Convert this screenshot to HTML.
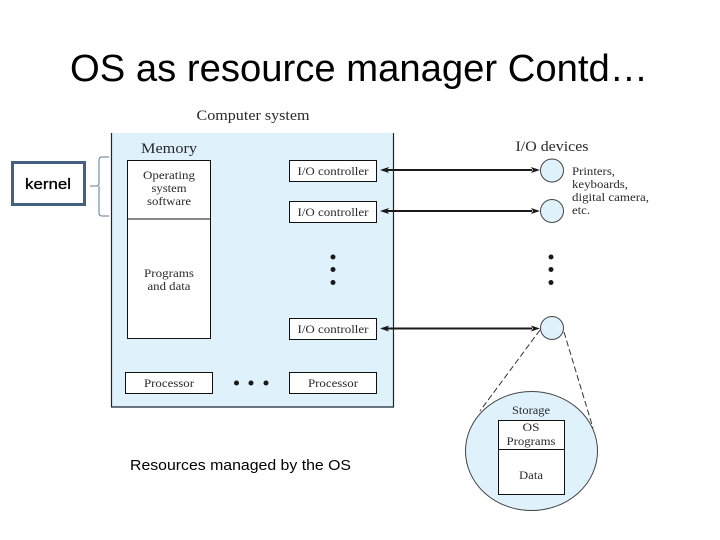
<!DOCTYPE html>
<html><head><meta charset="utf-8"><style>
html,body{margin:0;padding:0;background:#fff}
svg{display:block}
.s{font-family:"Liberation Serif",serif;fill:#2a2a2a;text-anchor:middle}
.l{font-family:"Liberation Serif",serif;fill:#2a2a2a;text-anchor:start}
.c{font-family:"Liberation Sans",sans-serif;fill:#000}
</style></head><body>
<svg width="720" height="540" viewBox="0 0 720 540" xmlns="http://www.w3.org/2000/svg">
<rect width="720" height="540" fill="#fff"/>
<text class="c" x="70" y="81" font-size="38" textLength="578" lengthAdjust="spacingAndGlyphs">OS as resource manager Contd…</text>

<text class="s" x="253" y="120" font-size="14.5" textLength="113" lengthAdjust="spacingAndGlyphs">Computer system</text>

<rect x="111.5" y="133" width="282" height="274" fill="#dff1fb"/>
<path d="M111.5 133V407H393.5V133" fill="none" stroke="#1a2630" stroke-width="1.2"/>

<text class="s" x="169" y="153" font-size="14.5" textLength="56" lengthAdjust="spacingAndGlyphs">Memory</text>
<rect x="127.5" y="160.5" width="83" height="178" fill="#fff" stroke="#111" stroke-width="1"/>
<line x1="127.5" y1="219" x2="210.5" y2="219" stroke="#111"/>
<g font-size="11.5" lengthAdjust="spacingAndGlyphs">
<text class="s" x="169" y="179" textLength="52" lengthAdjust="spacingAndGlyphs">Operating</text>
<text class="s" x="169" y="192" textLength="35" lengthAdjust="spacingAndGlyphs">system</text>
<text class="s" x="169" y="205" textLength="44" lengthAdjust="spacingAndGlyphs">software</text>
<text class="s" x="169" y="277" textLength="50" lengthAdjust="spacingAndGlyphs">Programs</text>
<text class="s" x="169" y="290" textLength="43" lengthAdjust="spacingAndGlyphs">and data</text>
</g>

<g fill="#fff" stroke="#111" stroke-width="1">
<rect x="289.5" y="160.5" width="87" height="21"/>
<rect x="289.5" y="201.5" width="87" height="21"/>
<rect x="289.5" y="318.5" width="87" height="21"/>
<rect x="125.5" y="372.5" width="87" height="21"/>
<rect x="289.5" y="372.5" width="87" height="21"/>
</g>
<g font-size="11.5">
<text class="s" x="333" y="175" textLength="71" lengthAdjust="spacingAndGlyphs">I/O controller</text>
<text class="s" x="333" y="216" textLength="71" lengthAdjust="spacingAndGlyphs">I/O controller</text>
<text class="s" x="333" y="333" textLength="71" lengthAdjust="spacingAndGlyphs">I/O controller</text>
<text class="s" x="169" y="387" textLength="50" lengthAdjust="spacingAndGlyphs">Processor</text>
<text class="s" x="333" y="387" textLength="50" lengthAdjust="spacingAndGlyphs">Processor</text>
</g>

<g fill="#1a1a1a">
<circle cx="333" cy="257" r="2.5"/><circle cx="333" cy="269.5" r="2.5"/><circle cx="333" cy="282.5" r="2.5"/>
<circle cx="551" cy="257" r="2.5"/><circle cx="551" cy="269.5" r="2.5"/><circle cx="551" cy="282.5" r="2.5"/>
<circle cx="236.5" cy="383" r="2.5"/><circle cx="251" cy="383" r="2.5"/><circle cx="266" cy="383" r="2.5"/>
</g>

<g stroke="#1a1a1a" stroke-width="2" fill="none">
<line x1="385" y1="170" x2="532" y2="170"/>
<line x1="385" y1="211" x2="532" y2="211"/>
<line x1="385" y1="328.5" x2="532" y2="328.5"/>
</g>
<g fill="#1a1a1a">
<path d="M380 170l9-3l-2 3l2 3z"/><path d="M540 170l-9-3l2 3l-2 3z"/>
<path d="M380 211l9-3l-2 3l2 3z"/><path d="M540 211l-9-3l2 3l-2 3z"/>
<path d="M380 328.5l9-3l-2 3l2 3z"/><path d="M540 328.5l-9-3l2 3l-2 3z"/>
</g>

<text class="s" x="552" y="151" font-size="14.5" textLength="73" lengthAdjust="spacingAndGlyphs">I/O devices</text>
<g fill="#dff1fb" stroke="#444" stroke-width="1">
<circle cx="552" cy="170.5" r="11.5"/>
<circle cx="552" cy="211" r="11.5"/>
<circle cx="552" cy="328" r="11.5"/>
<ellipse cx="531.5" cy="451" rx="66" ry="59.5"/>
</g>
<g font-size="11.5">
<text class="l" x="572" y="175" textLength="43" lengthAdjust="spacingAndGlyphs">Printers,</text>
<text class="l" x="572" y="188" textLength="56" lengthAdjust="spacingAndGlyphs">keyboards,</text>
<text class="l" x="572" y="201" textLength="77" lengthAdjust="spacingAndGlyphs">digital camera,</text>
<text class="l" x="572" y="214" textLength="18" lengthAdjust="spacingAndGlyphs">etc.</text>
</g>

<g stroke="#333" stroke-width="1" stroke-dasharray="6 3" fill="none">
<line x1="540" y1="330" x2="480" y2="411"/>
<line x1="564" y1="332" x2="593" y2="428"/>
</g>

<text class="s" x="531" y="414" font-size="12" textLength="38" lengthAdjust="spacingAndGlyphs">Storage</text>
<rect x="498.5" y="420.5" width="66" height="74" fill="#fff" stroke="#111"/>
<line x1="498.5" y1="449.5" x2="564.5" y2="449.5" stroke="#111"/>
<g font-size="11.5">
<text class="s" x="531" y="431" textLength="17" lengthAdjust="spacingAndGlyphs">OS</text>
<text class="s" x="531" y="445" textLength="49" lengthAdjust="spacingAndGlyphs">Programs</text>
<text class="s" x="531" y="479" textLength="24" lengthAdjust="spacingAndGlyphs">Data</text>
</g>

<rect x="12.5" y="162.5" width="72" height="42" fill="#fff" stroke="#44617f" stroke-width="3"/>
<text class="c" x="48" y="189" font-size="15" text-anchor="middle" stroke="#000" stroke-width="0.3" textLength="46" lengthAdjust="spacingAndGlyphs">kernel</text>
<path d="M109 157H102Q99 157 99 160V183Q99 186 96 186H90M99 186Q99 186 99 189V213Q99 216 102 216H109" fill="none" stroke="#5b7a94" stroke-width="1"/>

<text class="c" x="130" y="470" font-size="14.5" textLength="221" lengthAdjust="spacingAndGlyphs">Resources managed by the OS</text>
</svg>
</body></html>
